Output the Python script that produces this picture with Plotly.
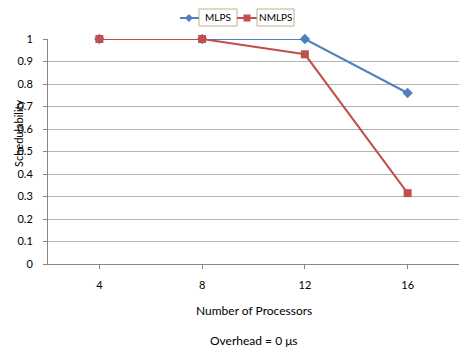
import plotly.graph_objects as go

processors = [4, 8, 12, 16]
mlps = [1.0, 1.0, 1.0, 0.76]
nmlps = [1.0, 1.0, 0.932, 0.315]
x_tick_labels = ["4", "8", "12", "16"]
y_ticks = [0, 0.1, 0.2, 0.3, 0.4, 0.5, 0.6, 0.7, 0.8, 0.9, 1]
series_names = ["MLPS", "NMLPS"]
series_colors = ["#4F81BD", "#C0504D"]

FONT = "Lato"
L, T, W, H = 48, 39, 411, 225

def px(x):
    return (x - L) / W

def py(y):
    return (T + H - y) / H

fig = go.Figure()
fig.add_trace(go.Scatter(x=processors, y=mlps, name=series_names[0], mode="lines+markers",
                         line=dict(color=series_colors[0], width=2),
                         marker=dict(symbol="diamond", size=8, color=series_colors[0]),
                         cliponaxis=False))
fig.add_trace(go.Scatter(x=processors, y=nmlps, name=series_names[1], mode="lines+markers",
                         line=dict(color=series_colors[1], width=2),
                         marker=dict(symbol="square", size=8, color=series_colors[1]),
                         cliponaxis=False))

fig.update_layout(
    width=459, height=356,
    margin=dict(l=L, r=459 - L - W, t=T, b=356 - T - H, autoexpand=False),
    paper_bgcolor="white", plot_bgcolor="white",
    font=dict(family=FONT, size=11, color="#000000"),
    showlegend=False,
)
fig.update_xaxes(range=[2, 18], tickvals=processors, ticktext=x_tick_labels,
                 showgrid=False, zeroline=False, showline=True, linecolor="#868686",
                 linewidth=1, ticks="outside", ticklen=4, tickcolor="#868686",
                 ticklabelstandoff=7)
fig.update_yaxes(range=[0, 1], tickvals=y_ticks, showgrid=True, gridcolor="#B3B3B3",
                 gridwidth=1, zeroline=False, showline=True, linecolor="#868686",
                 linewidth=1, ticks="outside", ticklen=4, tickcolor="#868686",
                 tickfont=dict(size=11), ticklabelstandoff=8)

# axis titles and caption
fig.add_annotation(text="Schedulability", textangle=-90, x=px(18), y=py(134),
                   xanchor="center", yanchor="middle",
                   xref="paper", yref="paper", showarrow=False, font=dict(size=11))
fig.add_annotation(text="Number of Processors", x=px(254), y=py(310),
                   xanchor="center", yanchor="middle",
                   xref="paper", yref="paper", showarrow=False, font=dict(size=12))
fig.add_annotation(text="Overhead = 0 \u03bcs", x=px(254), y=py(340),
                   xanchor="center", yanchor="middle",
                   xref="paper", yref="paper", showarrow=False, font=dict(size=12))

# manual legend (Excel style: boxed labels)
BOX = "#BFB389"
legend_items = [
    dict(line=(180, 199), mark=189, box=(199, 237)),
    dict(line=(237, 257), mark=247, box=(257, 294)),
]
ly = 18
for i, it in enumerate(legend_items):
    c = series_colors[i]
    fig.add_shape(type="line", xref="paper", yref="paper",
                  x0=px(it["line"][0]), x1=px(it["line"][1]), y0=py(ly), y1=py(ly),
                  line=dict(color=c, width=2))
    m = it["mark"]
    if i == 0:
        path = (f"M {px(m - 4)} {py(ly)} L {px(m)} {py(ly - 4)} L {px(m + 4)} {py(ly)} "
                f"L {px(m)} {py(ly + 4)} Z")
        fig.add_shape(type="path", xref="paper", yref="paper", path=path,
                      fillcolor=c, line=dict(color=c, width=0))
    else:
        fig.add_shape(type="rect", xref="paper", yref="paper",
                      x0=px(m - 3.5), x1=px(m + 3.5), y0=py(ly - 3.5), y1=py(ly + 3.5),
                      fillcolor=c, line=dict(color=c, width=0))
    b0, b1 = it["box"]
    fig.add_shape(type="rect", xref="paper", yref="paper",
                  x0=px(b0), x1=px(b1), y0=py(9), y1=py(26),
                  line=dict(color=BOX, width=1), fillcolor="white")
    fig.add_annotation(text=series_names[i], x=px((b0 + b1) / 2), y=py(17.5),
                       xanchor="center", yanchor="middle", xref="paper", yref="paper",
                       showarrow=False, font=dict(size=10))

fig.write_html("out.html", config={"displayModeBar": False},
               post_script="document.body.style.margin='0';")
